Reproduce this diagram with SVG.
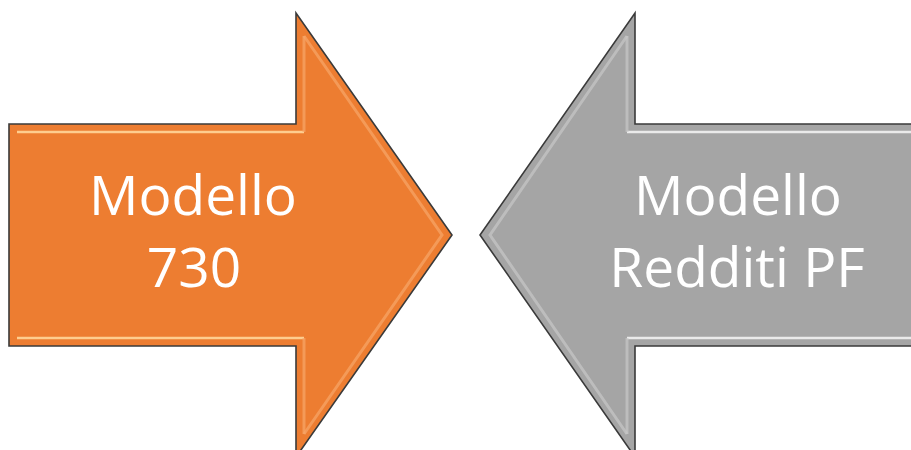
<svg xmlns="http://www.w3.org/2000/svg" width="911" height="450" viewBox="0 0 911 450">
<style>
.arrow{stroke:#3a3a3a;stroke-width:1.6;stroke-linejoin:miter}
.orange{fill:#ED7D31}
.gray{fill:#A5A5A5}
.hlo{stroke:#FFD69A;stroke-width:2.5;fill:none;opacity:0.9}
.hlo2{stroke:#F6A66A;stroke-width:3;fill:none;opacity:0.7}
.hlg{stroke:#F2F2F2;stroke-width:2.5;fill:none;opacity:0.9}
.hlg2{stroke:#C8C8C8;stroke-width:3;fill:none;opacity:0.7}
.label{font-family:"Open Sans","Noto Sans",sans-serif;font-size:55px;fill:#ffffff}
</style>
<rect width="911" height="450" fill="#ffffff"/>
<g id="node-730">
<path class="arrow orange" d="M9,124 L296,124 L296,13 L452,235 L296,457 L296,346 L9,346 Z"/>
<path class="hlo" d="M17,132 L304,132"/>
<path class="hlo" d="M17,338 L304,338"/>
<path class="hlo2" d="M304,36 L442,235 L304,434"/>
<path class="hlo2" d="M304,132 L304,36 M304,338 L304,434"/>
<text class="label" x="193" y="215" text-anchor="middle">Modello</text>
<text class="label" x="194" y="287" text-anchor="middle">730</text>
</g>
<g id="node-redditi">
<path class="arrow gray" d="M916,124 L635,124 L635,13 L480,235 L635,457 L635,346 L916,346 Z"/>
<path class="hlg" d="M627,132 L911,132"/>
<path class="hlg" d="M627,338 L911,338"/>
<path class="hlg2" d="M627,36 L490,235 L627,434"/>
<path class="hlg2" d="M627,132 L627,36 M627,338 L627,434"/>
<text class="label" x="738" y="215" text-anchor="middle">Modello</text>
<text class="label" x="737" y="287" text-anchor="middle">Redditi PF</text>
</g>
<g id="connectors"></g>
</svg>
